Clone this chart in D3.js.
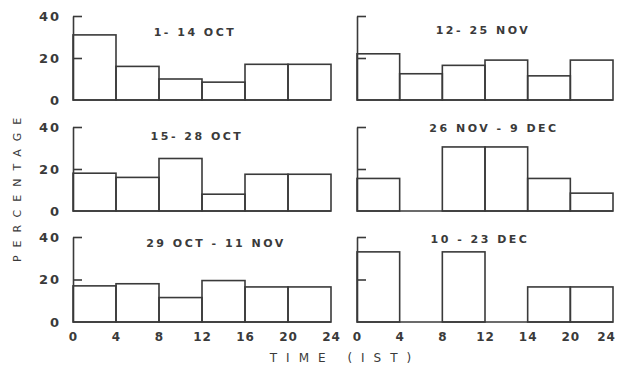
<!DOCTYPE html>
<html>
<head>
<meta charset="utf-8">
<script src="https://cdn.jsdelivr.net/npm/d3@7"></script>
<style>
  body { margin: 0; background: #fff; }
  svg { display: block; }
  text { font-family: "DejaVu Sans", sans-serif; fill: #3a3a3a; }
  .tick line, .domain { stroke: #3a3a3a; stroke-width: 1.6; }
</style>
</head>
<body>
<svg id="chart" width="617" height="366"></svg>
<script>
// bins are 4 hours wide, 0-24 IST
const binStarts = [0, 4, 8, 12, 16, 20];
const titles = ["1- 14 OCT", "12- 25 NOV", "15- 28 OCT", "26 NOV - 9 DEC", "29 OCT - 11 NOV", "10 - 23 DEC"];
const oct1 = [31, 16, 10, 8.5, 17, 17];
const nov12 = [22, 12.5, 16.5, 19, 11.5, 19];
const oct15 = [18, 16, 25, 8, 17.5, 17.5];
const nov26 = [15.5, 0, 30.5, 30.5, 15.5, 8.5];
const oct29 = [17, 18, 11.5, 19.5, 16.5, 16.5];
const dec10 = [33, 0, 33, 0, 16.5, 16.5];
const yTicks = [0, 20, 40];
const xTicksLeft = ["0", "4", "8", "12", "16", "20", "24"];
const xTicksRight = ["0", "4", "8", "12", "14", "20", "24"];

const series = [oct1, nov12, oct15, nov26, oct29, dec10];

let svg = d3.select("#chart");

// panel placement
let colX = [[73, 331], [357, 613]];
let rowY = [[100, 16], [211, 127], [322, 237]];
// title centre offsets from (left, zero) of each panel
let titlePos = [[122, -64], [126, -66], [124, -71], [137, -79], [143, -75], [123, -79]];

series.forEach((vals, i) => {
    let col = i % 2, row = Math.floor(i / 2);
    let x = d3.scaleLinear().domain([0, 24]).range(colX[col]);
    let y = d3.scaleLinear().domain([0, 40]).range(rowY[row]);
    let g = svg.append("g");

    // y axis, ticks pointing into the plot
    let yAxis = d3.axisLeft(y).tickValues(yTicks)
        .tickSizeInner(-9).tickSizeOuter(0).tickPadding(12)
        .tickFormat(col === 0 ? d3.format("d") : () => "");
    let ya = g.append("g").attr("transform", "translate(" + x(0) + ",0)").call(yAxis);
    ya.selectAll(".tick").filter(d => d === 0).select("line").remove();
    ya.selectAll("text").style("font-size", "13px").style("font-weight", "bold")
        .style("letter-spacing", "2px");

    // baseline
    g.append("line")
        .attr("x1", x(0)).attr("x2", x(24))
        .attr("y1", y(0)).attr("y2", y(0))
        .attr("stroke", "#3a3a3a").attr("stroke-width", 1.6);

    // histogram bins
    g.selectAll("rect").data(binStarts.map((s, k) => ({s: s, v: vals[k]})).filter(d => d.v > 0))
        .enter().append("rect")
        .attr("x", d => x(d.s))
        .attr("width", d => x(d.s + 4) - x(d.s))
        .attr("y", d => y(d.v))
        .attr("height", d => y(0) - y(d.v))
        .attr("fill", "none")
        .attr("stroke", "#3a3a3a")
        .attr("stroke-width", 1.6);

    // x tick labels on the bottom row only
    if (row === 2) {
        let labels = col === 0 ? xTicksLeft : xTicksRight;
        let xAxis = d3.axisBottom(x).tickValues([0, 4, 8, 12, 16, 20, 24])
            .tickSize(0).tickPadding(10)
            .tickFormat((d, k) => labels[k]);
        let xa = g.append("g").attr("transform", "translate(0," + y(0) + ")").call(xAxis);
        xa.select(".domain").remove();
        xa.selectAll("text").style("font-size", "12px").style("font-weight", "bold")
            .style("letter-spacing", "1px");
        // keep the last label inside the window
        if (col === 1) xa.selectAll("text").filter(d => d === 24).attr("dx", "-7px");
    }

    g.append("text")
        .attr("x", x(0) + titlePos[i][0])
        .attr("y", y(0) + titlePos[i][1])
        .attr("text-anchor", "middle")
        .style("font-size", "11px")
        .style("font-weight", "bold")
        .style("letter-spacing", "2.5px")
        .text(titles[i]);
});

svg.append("text")
    .attr("transform", "translate(21,186) rotate(-90)")
    .attr("text-anchor", "middle")
    .style("font-size", "11px")
    .style("letter-spacing", "8px")
    .text("PERCENTAGE");

svg.append("text")
    .attr("x", 345).attr("y", 362)
    .attr("text-anchor", "middle")
    .style("font-size", "12px")
    .style("letter-spacing", "9px")
    .text("TIME (IST)");
</script>
</body>
</html>
